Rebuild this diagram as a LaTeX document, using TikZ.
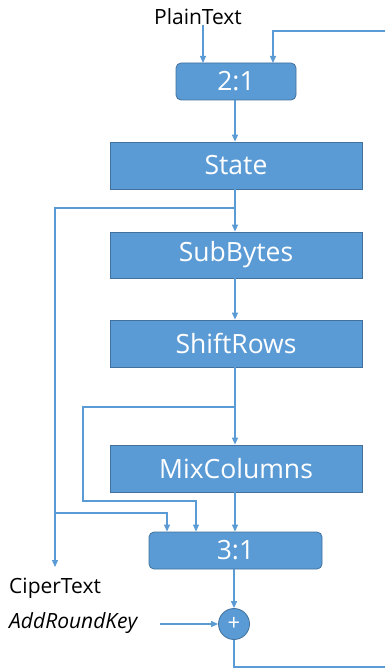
\documentclass[tikz,border=0pt]{standalone}
\usepackage{fontspec}
\setmainfont{Open Sans}
\usetikzlibrary{arrows.meta,calc}
\definecolor{boxblue}{HTML}{5B9BD5}
\definecolor{boxedge}{HTML}{41719C}
\definecolor{lineblue}{HTML}{5B9BD5}
\tikzset{
  blk/.style={draw=boxedge, line width=0.8pt, fill=boxblue, text=white, font=\fontsize{26.5}{30}\selectfont, inner sep=0pt, anchor=center},
  mux/.style={blk, rounded corners=5pt},
  lbl/.style={text=black, font=\fontsize{21}{24}\selectfont, inner sep=0pt},
  arr/.style={draw=lineblue, line width=1.2pt, -{Triangle[length=7pt,width=6pt]}},
  ln/.style={draw=lineblue, line width=1.2pt}
}
\begin{document}
\begin{tikzpicture}[x=1pt,y=-1pt]
\useasboundingbox (0,0) rectangle (385,668);
% nodes
\node[lbl] (plain) at (198,17) {PlainText};
\node[mux, minimum width=120pt, minimum height=37pt] (m21) at (236,81.5) {2:1};
\node[blk, minimum width=252pt, minimum height=47pt] (state) at (236,165.5) {State};
\node[blk, minimum width=252pt, minimum height=46pt] (sub) at (236,255) {SubBytes};
\node[blk, minimum width=252pt, minimum height=47pt] (shift) at (236,343.5) {ShiftRows};
\node[blk, minimum width=252pt, minimum height=47pt] (mix) at (236,468.5) {MixColumns};
\node[mux, minimum width=173pt, minimum height=37pt] (m31) at (235.5,550.5) {3:1};
\node[circle, draw=boxedge, line width=0.8pt, fill=boxblue, text=white, minimum size=31pt, inner sep=0pt, font=\fontsize{22}{22}\selectfont] (xor) at (234,624) {+};
\node[lbl, anchor=west] (cipher) at (9,588) {CiperText};
\node[lbl, anchor=west, font=\fontsize{21}{24}\selectfont\itshape] (key) at (9,623) {AddRoundKey};
% coordinates
\coordinate (fb) at (385,31);
\coordinate (fbturn) at (273,31);
\coordinate (pin) at (203,63);
\coordinate (fin) at (273,63);
\coordinate (b1) at (235,208);
\coordinate (b1l) at (55,208);
\coordinate (cend) at (55,567);
\coordinate (b2) at (235,407);
\coordinate (b2l) at (83,407);
\coordinate (b2d) at (83,501);
\coordinate (b2r) at (196,501);
\coordinate (j3) at (55,513);
\coordinate (j3r) at (167,513);
\coordinate (kst) at (160,624);
\coordinate (outc) at (234,667);
\coordinate (oute) at (385,667);
% connectors
\draw[arr] (plain.south -| pin) -- (pin);
\draw[arr] (fb) -- (fbturn) -- (fin);
\draw[arr] (m21.south -| 235,0) -- (state.north -| 235,0);
\draw[arr] (state.south -| 235,0) -- (sub.north -| 235,0);
\draw[arr] (b1) -- (b1l) -- (cend);
\draw[arr] (sub.south -| 235,0) -- (shift.north -| 235,0);
\draw[arr] (shift.south -| 235,0) -- (mix.north -| 235,0);
\draw[arr] (b2) -- (b2l) -- (b2d) -- (b2r) -- (b2r |- m31.north);
\draw[arr] (mix.south -| 235,0) -- (m31.north -| 235,0);
\draw[arr] (j3) -- (j3r) -- (j3r |- m31.north);
\draw[arr] (m31.south -| xor) -- (xor.north);
\draw[arr] (kst) -- (xor.west);
\draw[ln] (xor.south) -- (outc) -- (oute);
\end{tikzpicture}
\end{document}
